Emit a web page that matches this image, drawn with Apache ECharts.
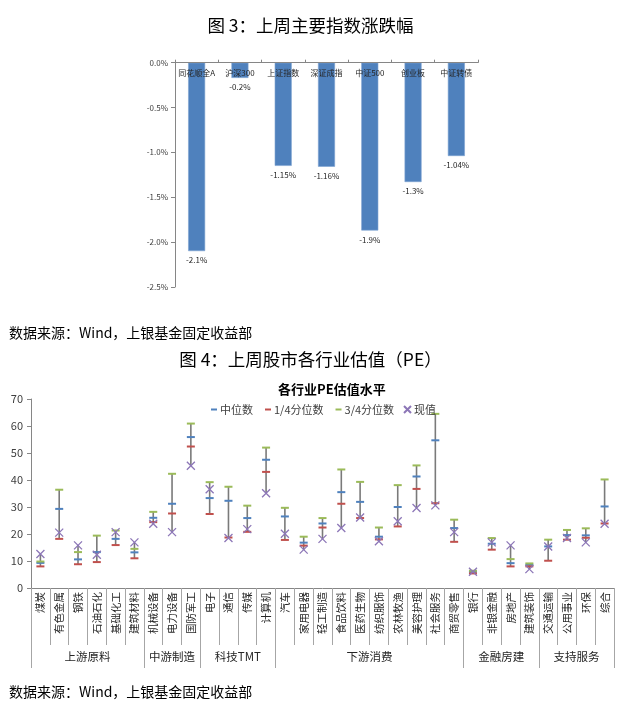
<!DOCTYPE html>
<html>
<head>
<meta charset="utf-8">
<script src="https://cdn.jsdelivr.net/npm/echarts@6/dist/echarts.min.js"></script>
<style>
html,body{margin:0;padding:0;background:#fff;}
#c{width:621px;height:701px;}
</style>
</head>
<body>
<div id="c"></div>
<script>
// ---- Chart 1 data ----
const indexNames = ['同花顺全A', '沪深300', '上证指数', '深证成指', '中证500', '创业板', '中证转债'];
const indexChange = [-2.1, -0.17, -1.15, -1.16, -1.87, -1.33, -1.04];
const indexLabels = ['-2.1%', '-0.2%', '-1.15%', '-1.16%', '-1.9%', '-1.3%', '-1.04%'];
const pctTicks = [0, -0.5, -1.0, -1.5, -2.0, -2.5];

// ---- Chart 2 data ----
const industries = ['煤炭','有色金属','钢铁','石油石化','基础化工','建筑材料','机械设备','电力设备','国防军工','电子','通信','传媒','计算机','汽车','家用电器','轻工制造','食品饮料','医药生物','纺织服饰','农林牧渔','美容护理','社会服务','商贸零售','银行','非银金融','房地产','建筑装饰','交通运输','公用事业','环保','综合'];
const peMedian = [9.3, 29.3, 10.6, 13.3, 18.2, 13.2, 26.0, 31.2, 55.9, 33.3, 32.3, 25.9, 47.5, 26.5, 16.8, 23.9, 35.5, 31.9, 19.0, 30.0, 41.3, 54.7, 22.2, 6.0, 16.4, 9.2, 8.6, 15.4, 19.6, 19.5, 30.2];
const peQ1 = [8.0, 18.2, 8.8, 9.6, 15.9, 11.0, 24.4, 27.6, 52.4, 27.4, 18.7, 20.8, 43.0, 17.8, 15.7, 22.4, 31.2, 25.9, 18.0, 22.8, 36.7, 31.4, 17.1, 5.4, 14.2, 8.0, 8.0, 10.1, 17.9, 18.6, 23.9];
const peQ3 = [9.8, 36.4, 13.3, 19.4, 21.3, 14.5, 28.2, 42.3, 60.9, 39.2, 37.5, 30.5, 52.0, 29.7, 19.0, 25.9, 43.9, 39.3, 22.4, 38.1, 45.4, 64.5, 25.3, 6.4, 18.5, 10.7, 9.1, 17.9, 21.5, 22.1, 40.2];
const peNow = [12.6, 20.5, 15.8, 12.3, 20.7, 16.9, 23.8, 20.7, 45.3, 36.6, 18.5, 21.8, 35.1, 20.1, 14.2, 18.2, 22.2, 26.1, 17.3, 24.7, 29.6, 30.6, 20.7, 6.0, 16.9, 15.8, 7.0, 15.4, 18.5, 16.9, 23.8];
const groupNames = ['上游原料', '中游制造', '科技TMT', '下游消费', '金融房建', '支持服务'];
const groupSizes = [6, 3, 4, 10, 4, 4];
const seriesNames = ['中位数', '1/4分位数', '3/4分位数', '现值'];

const FONT = '"Noto Sans CJK SC", "Noto Sans", sans-serif';
const C_BLUE = '#4F81BD', C_RED = '#C0504D', C_GREEN = '#9BBB59', C_PURPLE = '#8C76B7';

// group boundaries and centers
const groupBounds = [0];
groupSizes.forEach(s => groupBounds.push(groupBounds[groupBounds.length - 1] + s));
const groupCenters = groupSizes.map((s, i) => groupBounds[i] + s / 2);

const hiLo = industries.map((_, i) => {
  const v = [peMedian[i], peQ1[i], peQ3[i], peNow[i]];
  return [i, Math.min.apply(null, v), Math.max.apply(null, v)];
});

const chart = echarts.init(document.getElementById('c'), null, {renderer: 'canvas'});
const xMark = 'path://M0,0L10,10M10,0L0,10';

const option = {
  backgroundColor: '#fff',
  animation: false,
  textStyle: {fontFamily: FONT},
  title: [
    {text: '图 3：上周主要指数涨跌幅', left: 'center', top: 12,
     textStyle: {fontSize: 17.5, fontWeight: 'normal', color: '#000', fontFamily: FONT}},
    {text: '数据来源：Wind，上银基金固定收益部', left: 4, top: 321,
     textStyle: {fontSize: 14, fontWeight: 'normal', color: '#000', fontFamily: FONT}},
    {text: '图 4：上周股市各行业估值（PE）', left: 'center', top: 346,
     textStyle: {fontSize: 17.5, fontWeight: 'normal', color: '#000', fontFamily: FONT}},
    {text: '各行业PE估值水平', left: 273, top: 378,
     textStyle: {fontSize: 13, fontWeight: 'bold', color: '#000', fontFamily: FONT}},
    {text: '数据来源：Wind，上银基金固定收益部', left: 4, top: 680,
     textStyle: {fontSize: 14, fontWeight: 'normal', color: '#000', fontFamily: FONT}}
  ],
  legend: [
    {data: seriesNames.slice(0, 3), left: 206, top: 399, itemWidth: 6, itemHeight: 2, itemGap: 12,
     textStyle: {fontSize: 11, color: '#404040', padding: [0, 0, 0, -2]}, selectedMode: false},
    {data: [seriesNames[3]], left: 398, top: 399, itemWidth: 7, itemHeight: 7,
     textStyle: {fontSize: 11, color: '#404040', padding: [0, 0, 0, -2]}, selectedMode: false}
  ],
  grid: [
    {left: 175, width: 303, top: 62.7, height: 224.3, containLabel: false},
    {left: 31, width: 583, top: 399, height: 189, containLabel: false}
  ],
  xAxis: [
    {gridIndex: 0, type: 'category', data: indexNames, position: 'top', z: 10,
     axisLine: {lineStyle: {color: '#868686', width: 1}},
     axisTick: {show: true, length: 3, lineStyle: {color: '#868686'}},
     axisLabel: {inside: true, margin: 6, fontSize: 8, color: '#262626', interval: 0}},
    {gridIndex: 1, type: 'category', data: industries, position: 'bottom',
     axisLine: {lineStyle: {color: '#868686', width: 1}},
     axisTick: {show: true, length: 57, interval: 0, lineStyle: {color: '#A6A6A6'}},
     axisLabel: {rotate: 90, margin: 4, fontSize: 10.5, color: '#262626', interval: 0}},
    {gridIndex: 1, type: 'value', min: 0, max: industries.length, position: 'bottom',
     axisLine: {show: false},
     splitLine: {show: false},
     axisTick: {show: true, length: 80, customValues: groupBounds, lineStyle: {color: '#A6A6A6'}},
     axisLabel: {show: true, margin: 63, fontSize: 11.5, color: '#262626', customValues: groupCenters,
       formatter: v => { const k = groupCenters.indexOf(v); return k >= 0 ? groupNames[k] : ''; }}}
  ],
  yAxis: [
    {gridIndex: 0, type: 'value', min: -2.5, max: 0, interval: 0.5,
     axisLine: {show: true, lineStyle: {color: '#868686'}},
     axisTick: {show: true, length: 4, lineStyle: {color: '#868686'}},
     splitLine: {show: false},
     axisLabel: {margin: 7, fontSize: 8, color: '#404040', formatter: v => v.toFixed(1) + '%'}},
    {gridIndex: 1, type: 'value', min: 0, max: 70, interval: 10,
     axisLine: {show: true, lineStyle: {color: '#868686'}},
     axisTick: {show: true, length: 4, lineStyle: {color: '#868686'}},
     splitLine: {show: false},
     axisLabel: {margin: 8, fontSize: 11, color: '#404040'}}
  ],
  series: [
    {type: 'bar', xAxisIndex: 0, yAxisIndex: 0, data: indexChange, barWidth: 17,
     itemStyle: {color: C_BLUE, borderColor: '#7EA3D1', borderWidth: 0.6},
     label: {show: true, position: 'bottom', distance: 5, fontSize: 8, color: '#262626',
       formatter: p => indexLabels[p.dataIndex]}},
    {type: 'custom', name: 'hilo', xAxisIndex: 1, yAxisIndex: 1, z: 1, data: hiLo,
     renderItem: (params, api) => {
       const a = api.coord([api.value(0), api.value(1)]);
       const b = api.coord([api.value(0), api.value(2)]);
       return {type: 'line', shape: {x1: a[0], y1: a[1], x2: b[0], y2: b[1]},
               style: {stroke: '#7A7A7A', lineWidth: 1.6}};
     }},
    {type: 'scatter', name: seriesNames[0], xAxisIndex: 1, yAxisIndex: 1, data: peMedian, z: 3,
     symbol: 'rect', symbolSize: [8, 2], itemStyle: {color: C_BLUE, opacity: 1}},
    {type: 'scatter', name: seriesNames[1], xAxisIndex: 1, yAxisIndex: 1, data: peQ1, z: 3,
     symbol: 'rect', symbolSize: [8, 2], itemStyle: {color: C_RED, opacity: 1}},
    {type: 'scatter', name: seriesNames[2], xAxisIndex: 1, yAxisIndex: 1, data: peQ3, z: 3,
     symbol: 'rect', symbolSize: [8, 2], itemStyle: {color: C_GREEN, opacity: 1}},
    {type: 'scatter', name: seriesNames[3], xAxisIndex: 1, yAxisIndex: 1, data: peNow, z: 4,
     symbol: xMark, symbolSize: 8,
     itemStyle: {color: C_PURPLE, borderColor: C_PURPLE, borderWidth: 1.3, opacity: 1}}
  ]
};
chart.setOption(option);
</script>
</body>
</html>
